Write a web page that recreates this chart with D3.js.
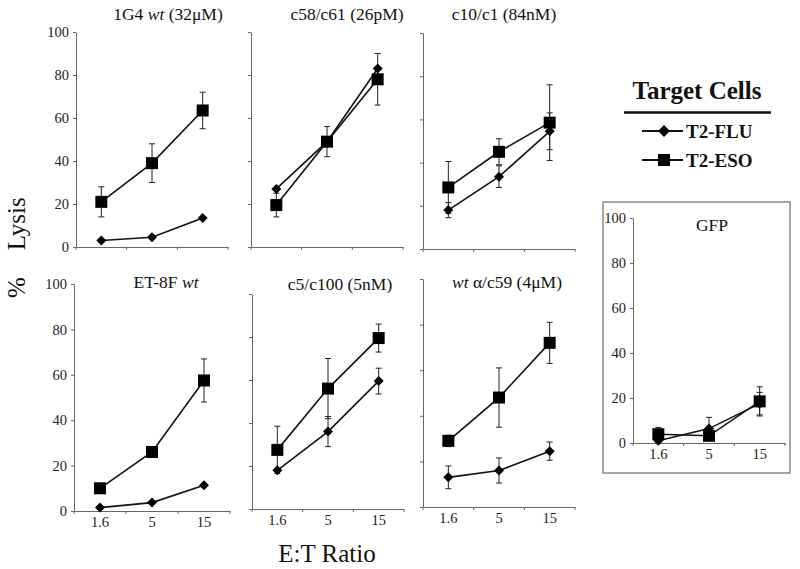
<!DOCTYPE html>
<html><head><meta charset="utf-8">
<script src="https://cdn.jsdelivr.net/npm/d3@7"></script>
<style>body{margin:0;background:#fff}svg{display:block}</style>
</head><body>
<svg id="c" width="800" height="569"></svg>
<script>
// ---------- data ----------
const categories = ["1.6", "5", "15"];
const yTicks = [0, 20, 40, 60, 80, 100];
const panelTitles = [
  [{t:"1G4 "},{t:"wt",i:true},{t:" (32μM)"}],
  [{t:"c58/c61 (26pM)"}],
  [{t:"c10/c1 (84nM)"}],
  [{t:"ET-8F "},{t:"wt",i:true}],
  [{t:"c5/c100 (5nM)"}],
  [{t:"wt",i:true},{t:" α/c59 (4μM)"}],
  [{t:"GFP"}]
];
const fluValues = [
  [3, 4.5, 13.5],
  [27, 49, 83],
  [18, 33.5, 54.5],
  [1.5, 3.7, 11.3],
  [18, 36, 59.5],
  [13, 16, 24.5],
  [1, 6.4, 17.5]
];
const fluErrors = [
  [0, 0, 0],
  [0, 0, 0],
  [3.5, 5, 8.5],
  [0, 0, 0],
  [0, 7, 6],
  [5, 5.5, 4],
  [0, 5, 5]
];
const esoValues = [
  [21, 39, 63.5],
  [19.5, 49, 78],
  [28.5, 45, 58.5],
  [10, 26, 57.5],
  [27.5, 56, 79.5],
  [29, 48, 72],
  [3.9, 3.2, 18.5]
];
const esoErrors = [
  [7, 9, 8.5],
  [5.5, 7, 12],
  [12, 6, 17.5],
  [0, 0, 9.5],
  [11, 14, 6.5],
  [2.5, 13, 9],
  [3, 2, 6.5]
];
const seriesNames = ["T2-FLU", "T2-ESO"];

// ---------- layout ----------
const layout = [
  {x0:76,  x1:228, yt:32,  y0:247, yl:true,  xl:false, tx:168, ty:20},
  {x0:251, x1:403, yt:32,  y0:247, yl:false, xl:false, tx:347, ty:20},
  {x0:423, x1:575, yt:33,  y0:249, yl:false, xl:false, tx:504, ty:20},
  {x0:74,  x1:230, yt:284, y0:511, yl:true,  xl:true,  tx:166, ty:288},
  {x0:252, x1:404, yt:294, y0:509, yl:false, xl:true,  tx:340, ty:290},
  {x0:423, x1:575, yt:279, y0:507, yl:false, xl:true,  tx:507, ty:288},
  {x0:633, x1:785, yt:218, y0:443, yl:true,  xl:true,  tx:712, ty:231}
];
const FONT = "'Liberation Serif','Times New Roman',serif";
const svg = d3.select("#c");

// GFP box
svg.append("rect").attr("x",603).attr("y",202).attr("width",187).attr("height",271)
  .attr("fill","none").attr("stroke","#777").attr("stroke-width",1.3);

function diamondPath(r){ return `M0,${-r}L${r},0L0,${r}L${-r},0Z`; }

layout.forEach((L, p) => {
  const g = svg.append("g");
  const y = d3.scaleLinear().domain([0,100]).range([L.y0, L.yt]);
  const band = d3.scaleBand().domain(categories).range([L.x0, L.x1]);
  const x = d3.scalePoint().domain(categories).range([L.x0, L.x1]).padding(0.5);

  // y axis
  const ya = g.append("g").attr("transform",`translate(${L.x0},0)`)
    .call(d3.axisLeft(y).tickValues(yTicks).tickSize(3).tickSizeOuter(0)
      .tickFormat(L.yl ? d3.format("d") : ""));
  ya.selectAll("path,line").attr("stroke","#666");
  ya.selectAll("text").attr("font-family",FONT).attr("font-size",14.5).attr("fill","#222").attr("dx",-1);

  // x axis
  const xa = g.append("g").attr("transform",`translate(0,${L.y0})`)
    .call(d3.axisBottom(band).tickSize(0).tickSizeOuter(0).tickPadding(6)
      .tickFormat(L.xl ? (d => d) : ""));
  xa.select("path").attr("stroke","#666");
  xa.selectAll("text").attr("font-family",FONT).attr("font-size",14.5).attr("fill","#222");
  const bounds = categories.map(c => band(c)).concat([L.x1]);
  g.selectAll(".bt").data(bounds).join("line")
    .attr("x1",d=>d).attr("x2",d=>d).attr("y1",L.y0).attr("y2",L.y0+3)
    .attr("stroke","#666");

  // title
  const tt = g.append("text").attr("x",L.tx).attr("y",L.ty).attr("text-anchor","middle")
    .attr("font-family",FONT).attr("font-size",17.5).attr("fill","#111");
  panelTitles[p].forEach(s => tt.append("tspan").text(s.t).attr("font-style", s.i ? "italic" : "normal"));

  // series
  const series = [
    {vals: esoValues[p], errs: esoErrors[p], kind:"sq"},
    {vals: fluValues[p], errs: fluErrors[p], kind:"di"}
  ];
  const line = d3.line().x((d,i)=>x(categories[i])).y(d=>y(d));
  series.forEach(s => {
    const eg = g.append("g");
    s.vals.forEach((v,i) => {
      const e = s.errs[i]; if(!e) return;
      const cx = x(categories[i]);
      eg.append("line").attr("x1",cx).attr("x2",cx).attr("y1",y(v-e)).attr("y2",y(v+e)).attr("stroke","#222").attr("stroke-width",1);
      [v-e, v+e].forEach(w => eg.append("line").attr("x1",cx-3).attr("x2",cx+3).attr("y1",y(w)).attr("y2",y(w)).attr("stroke","#222").attr("stroke-width",1));
    });
  });
  series.forEach(s => {
    g.append("path").datum(s.vals).attr("d",line).attr("fill","none").attr("stroke","#111").attr("stroke-width",1.6);
  });
  series.forEach(s => {
    s.vals.forEach((v,i) => {
      const cx = x(categories[i]), cy = y(v);
      if (s.kind === "sq") {
        g.append("rect").attr("x",cx-6).attr("y",cy-6).attr("width",12).attr("height",12).attr("fill","#000");
      } else {
        g.append("path").attr("d",diamondPath(5)).attr("transform",`translate(${cx},${cy})`).attr("fill","#000");
      }
    });
  });
});

// axis titles
const yl = svg.append("text").attr("transform","translate(25,298) rotate(-90)")
  .attr("font-family",FONT).attr("font-size",25).attr("fill","#111");
yl.append("tspan").text("%");
yl.append("tspan").attr("dx",27).text("Lysis");
svg.append("text").attr("x",327).attr("y",562).attr("text-anchor","middle")
  .attr("font-family",FONT).attr("font-size",25).attr("fill","#111").text("E:T Ratio");

// legend
const lg = svg.append("g");
lg.append("text").attr("x",697).attr("y",99).attr("text-anchor","middle")
  .attr("font-family",FONT).attr("font-size",25).attr("font-weight","bold").attr("fill","#111").text("Target Cells");
lg.append("line").attr("x1",624).attr("x2",771).attr("y1",112.5).attr("y2",112.5).attr("stroke","#111").attr("stroke-width",2.5);
const legY = [131, 160];
seriesNames.forEach((n,i) => {
  const yy = legY[i];
  lg.append("line").attr("x1",642).attr("x2",683).attr("y1",yy).attr("y2",yy).attr("stroke","#111").attr("stroke-width",2);
  if (i === 0) lg.append("path").attr("d",diamondPath(6)).attr("transform",`translate(664,${yy})`).attr("fill","#000");
  else lg.append("rect").attr("x",658).attr("y",yy-6).attr("width",12).attr("height",12).attr("fill","#000");
  lg.append("text").attr("x",686).attr("y",yy+6.5).attr("font-family",FONT).attr("font-size",19)
    .attr("font-weight","bold").attr("fill","#111").text(n);
});
</script>
</body></html>
